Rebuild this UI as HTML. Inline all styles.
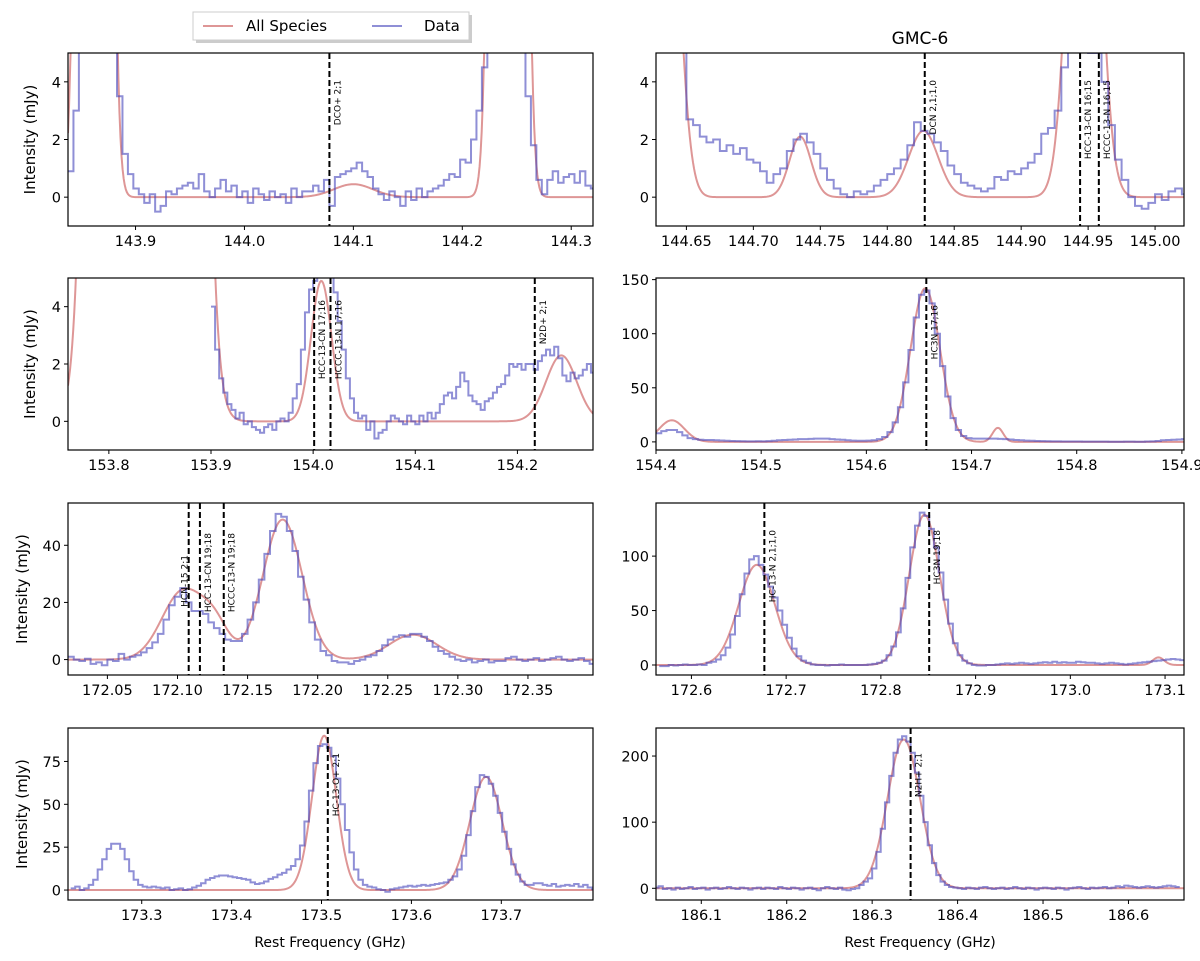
<!DOCTYPE html>
<html><head><meta charset="utf-8"><style>
body{margin:0;background:#fff}
svg{display:block;font-family:"DejaVu Sans","Liberation Sans",sans-serif}
</style></head><body>
<svg id="fig" width="1200" height="961" viewBox="0 0 1200 961" xmlns="http://www.w3.org/2000/svg">
<rect width="1200" height="961" fill="#fff"/>
<g>
<rect x="196" y="15" width="276" height="28" fill="#999" opacity="0.5"/>
<rect x="193" y="12" width="276" height="28" fill="#fff" stroke="#ccc" stroke-width="1"/>
<line x1="203" y1="26" x2="233" y2="26" stroke="#c85050" stroke-opacity="0.6" stroke-width="2"/>
<text x="246" y="31" font-size="15">All Species</text>
<line x1="372" y1="26" x2="402" y2="26" stroke="#4444bb" stroke-opacity="0.6" stroke-width="2"/>
<text x="424" y="31" font-size="15">Data</text>
</g>
<text x="920" y="44" font-size="17" text-anchor="middle">GMC-6</text>
<text x="330" y="947" font-size="14" text-anchor="middle">Rest Frequency (GHz)</text>
<text x="920" y="947" font-size="14" text-anchor="middle">Rest Frequency (GHz)</text>
</svg>
<script>
// ---- Panel 1 ----
const p1Start = 143.838, p1Step = 0.005;
const p1Data = [0.9,3,6,8,8,8,8,8,6,3.5,1.5,0.8,0.3,0.1,-0.2,0.1,-0.5,-0.3,0.2,0.1,0.3,0.4,0.5,0.3,0.8,0.2,0.0,0.3,0.6,0.2,0.4,0.0,0.2,-0.2,0.3,0.1,-0.1,0.2,0.0,0.1,-0.2,0.3,0.0,0.2,0.2,0.4,0.2,0.6,-0.3,0.7,0.8,0.9,1.0,1.2,0.9,0.7,0.3,0.1,-0.1,0.2,0.0,-0.3,0.2,-0.1,0.3,0.0,0.2,0.3,0.4,0.6,0.8,0.7,1.3,1.2,2,3,4.5,7,8,8,8,8,8,6,3.5,1.8,0.6,0.1,0.6,0.9,0.5,0.7,0.8,0.5,0.9,0.4,0.3];
const p1Centers = [143.862,144.1,144.242];
const p1Amps = [200,0.45,220];
const p1Widths = [0.008,0.018,0.008];
const p1XTicks = [143.9,144.0,144.1,144.2,144.3];
const p1XTickLabels = ["143.9","144.0","144.1","144.2","144.3"];
const p1YTicks = [0,2,4];
const p1Lines = [144.078];
const p1LineLabels = ["DCO+ 2;1"];
// ---- Panel 2 ----
const p2Start = 144.645, p2Step = 0.005;
const p2Data = [8,2.7,2.5,2.1,1.9,2.0,1.6,1.8,1.5,1.7,1.3,1.2,0.9,0.5,0.8,1.0,1.6,2.0,2.2,1.9,1.5,1.0,0.6,0.3,0.1,0.0,0.2,0.1,0.2,0.4,0.6,0.8,1.0,1.3,1.8,2.6,2.3,2.2,1.9,1.6,1.1,0.8,0.5,0.4,0.3,0.2,0.3,0.7,0.6,0.9,0.8,1.0,1.2,1.5,2.2,2.4,3.0,4.5,5.5,6,6,5,5,4,2.5,1.3,0.6,0.0,-0.3,-0.4,-0.2,0.1,-0.1,0.2,0.3,0.1];
const p2Centers = [144.635,144.735,144.827,144.947];
const p2Amps = [14,2.1,2.3,20];
const p2Widths = [0.009,0.008,0.011,0.01];
const p2XTicks = [144.65,144.70,144.75,144.80,144.85,144.90,144.95,145.00];
const p2XTickLabels = ["144.65","144.70","144.75","144.80","144.85","144.90","144.95","145.00"];
const p2YTicks = [0,2,4];
const p2Lines = [144.828,144.944,144.958];
const p2LineLabels = ["DCN 2,1;1,0","HCC-13-CN 16;15","HCCC-13-N 16;15"];
// ---- Panel 3 ----
const p3Start = 153.900, p3Step = 0.004;
const p3Data = [4,2.5,1.5,1.0,0.6,0.4,0.1,0.3,-0.1,0.0,-0.2,-0.3,-0.4,-0.2,-0.1,-0.3,0.0,0.1,0.0,0.3,0.8,1.3,2.5,3.8,4.6,4.9,6,8,8,6,4.5,3.5,2.5,1.5,0.8,0.3,0.1,0.2,-0.3,0.0,-0.6,-0.4,-0.3,0.0,0.2,0.1,0.0,-0.1,0.2,0.0,-0.1,0.2,0.0,0.3,0.1,0.3,0.6,0.9,1.0,0.8,1.2,1.7,1.4,0.9,0.7,0.6,0.4,0.7,0.8,1.0,1.2,1.3,1.6,2.0,1.9,2.0,1.8,2.0,2.0,1.8,2.1,2.3,2.5,2.3,2.6,2.2,1.6,1.4,1.7,1.5,1.6,1.8,2.0,1.7];
const p3Centers = [153.836,154.008,154.243];
const p3Amps = [1700,4.9,2.3];
const p3Widths = [0.02,0.01,0.015];
const p3XTicks = [153.8,153.9,154.0,154.1,154.2];
const p3XTickLabels = ["153.8","153.9","154.0","154.1","154.2"];
const p3YTicks = [0,2,4];
const p3Lines = [154.001,154.017,154.217];
const p3LineLabels = ["HCC-13-CN 17;16","HCCC-13-N 17;16","N2D+ 2;1"];
// ---- Panel 4 ----
const p4Start = 154.400, p4Step = 0.005;
const p4Data = [8,10,11,11,9,6,3.5,2.5,2,1.8,1.7,1.5,1.3,1.0,0.8,0.7,0.6,0.5,0.5,0.6,0.5,0.7,1.0,1.5,1.8,2,2.2,2.5,2.5,2.8,3,3,3,2.5,2.2,2,1.5,1.2,1.0,1.0,1.2,1.5,2.5,4.5,9,18,32,55,85,115,136,140,128,100,70,42,22,11,5.5,3.5,3,3,3,3,3,2.8,2.5,2.2,1.8,1.5,1.2,1,0.8,0.7,0.6,0.5,0.5,0.4,0.3,0.3,0.3,0.2,0.2,0.2,0.2,0.2,0.1,0.1,0.1,0.2,0.2,0.1,0.1,0.3,0.5,0.8,1.5,1.8,2,2.2,2.5];
const p4Centers = [154.415,154.656,154.725];
const p4Amps = [20,142,13];
const p4Widths = [0.012,0.014,0.005];
const p4XTicks = [154.4,154.5,154.6,154.7,154.8,154.9];
const p4XTickLabels = ["154.4","154.5","154.6","154.7","154.8","154.9"];
const p4YTicks = [0,50,100,150];
const p4Lines = [154.657];
const p4LineLabels = ["HC3N 17;16"];
// ---- Panel 5 ----
const p5Start = 172.022, p5Step = 0.004;
const p5Data = [1,0,-0.5,0.3,-1.5,-1,-2,0,-0.5,2,0,1,1.5,2.5,4,6,9,14,19,22,25,20,17,17,16,13,11,9,7,6.5,6.5,9,14,20,28,37,45,51,50,45,38,29,21,13,7,3,1.5,-0.5,-1,-1,-1.5,-0.5,0,1,1.5,3,5,7,8,8.5,8,9,9,8,6.5,4.5,3,2,1,0,-0.5,0,-1,-0.5,0,-1,-0.5,-0.5,0.5,1,0,-0.5,0,0.5,-0.5,0,0.5,1,0,-0.5,0,0.5,-0.5,-1.5];
const p5Centers = [172.104,172.127,172.175,172.268];
const p5Amps = [24,10,49,8.7];
const p5Widths = [0.015,0.01,0.014,0.017];
const p5XTicks = [172.05,172.10,172.15,172.20,172.25,172.30,172.35];
const p5XTickLabels = ["172.05","172.10","172.15","172.20","172.25","172.30","172.35"];
const p5YTicks = [0,20,40];
const p5Lines = [172.108,172.116,172.133];
const p5LineLabels = ["HCN-15 2;1","HCC-13-CN 19;18","HCCC-13-N 19;18"];
// ---- Panel 6 ----
const p6Start = 172.566, p6Step = 0.005;
const p6Data = [-1,-1,0,-0.5,0,0.5,0,0,0.5,0,2,3,5,9,16,28,45,65,84,97,100,92,83,72,62,50,37,25,15,8,4,2,0.5,0,0,-0.5,0,0,0.5,0,0,0,0,0,0.5,1,2,4,9,17,30,52,80,108,128,140,137,125,108,85,60,38,20,9,4,1.5,0,-0.5,-0.5,0,0,0.5,1,1.5,1,1.5,2,1.5,1,1.5,2,2.5,2,3,2,2.5,2,2,3,2.5,2,2,1.5,1,1.5,2,1.5,1,0.5,1,1.5,2,2.5,3,3.5,4,4.5,5,5.5,5,4.5,4];
const p6Centers = [172.669,172.846,173.093];
const p6Amps = [92,138,7];
const p6Widths = [0.019,0.016,0.006];
const p6XTicks = [172.6,172.7,172.8,172.9,173.0,173.1];
const p6XTickLabels = ["172.6","172.7","172.8","172.9","173.0","173.1"];
const p6YTicks = [0,50,100];
const p6Lines = [172.677,172.851];
const p6LineLabels = ["HC-13-N 2,1;1,0","HC3N 19;18"];
// ---- Panel 7 ----
const p7Start = 173.221, p7Step = 0.005;
const p7Data = [1,2,0,1,3,6,12,18,24,27,27,24,18,11,6,3,2,1.5,2,1.5,1,1.5,0,0.5,1,0,0.5,1.5,2.5,4,6,7,8,8.5,8.5,8,7.5,7,6.5,6,4.5,3.5,4,5,6.5,7.5,9,10,12,14,18,26,40,58,74,84,85,83,78,65,50,35,22,12,6,3,2,1.5,0.5,0,-1,0.5,1,1.5,2,2.5,2,2.5,3,2.5,3,3.5,4,4.5,6,8,12,20,32,46,60,67,66,62,55,45,34,24,15,9,5,3,3,4,4,3,2.5,3.5,2,2.5,3,2.5,3.5,2,3,1.5,0.5];
const p7Centers = [173.503,173.683];
const p7Amps = [90,66];
const p7Widths = [0.0135,0.018];
const p7XTicks = [173.3,173.4,173.5,173.6,173.7];
const p7XTickLabels = ["173.3","173.4","173.5","173.6","173.7"];
const p7YTicks = [0,25,50,75];
const p7Lines = [173.507];
const p7LineLabels = ["HC-13-O+ 2;1"];
// ---- Panel 8 ----
const p8Start = 186.045, p8Step = 0.005;
const p8Data = [1,3,-1,0,-2,1,-1,0,2,-1,0,1,-2,0,1,-1,0,2,0,-1,1,0,-2,0,1,-1,1,0,-1,2,0,-1,1,0,-2,0,1,-1,-3,0,2,0,-1,1,-2,-3,-1,0,5,10,15,30,55,90,130,170,205,225,230,222,205,175,140,100,65,38,20,10,5,2,1,0,-1,1,0,-1,1,2,0,-1,0,1,-1,0,2,0,-1,1,0,-2,0,1,0,-1,1,0,-2,0,1,2,0,-1,1,0,1,2,0,1,3,2,4,3,2,1,2,3,2,1,2,3,4,3,2];
const p8Centers = [186.337];
const p8Amps = [225];
const p8Widths = [0.019];
const p8XTicks = [186.1,186.2,186.3,186.4,186.5,186.6];
const p8XTickLabels = ["186.1","186.2","186.3","186.4","186.5","186.6"];
const p8YTicks = [0,100,200];
const p8Lines = [186.345];
const p8LineLabels = ["N2H+ 2;1"];

const NS = "http://www.w3.org/2000/svg";
const svg = document.getElementById('fig');
function mk(tag, attrs, parent){ const e=document.createElementNS(NS,tag); for(const k in attrs) e.setAttribute(k,attrs[k]); (parent||svg).appendChild(e); return e; }

const panels = [
 {id:1,box:[68,53,593,226],xl:[143.838,144.320],yl:[-1,5],start:p1Start,step:p1Step,data:p1Data,c:p1Centers,a:p1Amps,w:p1Widths,xt:p1XTicks,xtl:p1XTickLabels,yt:p1YTicks,lines:p1Lines,labels:p1LineLabels,ylab:true,ltop:27,ldx:[4]},
 {id:2,box:[656,53,1184,226],xl:[144.6273,145.0216],yl:[-1,5],start:p2Start,step:p2Step,data:p2Data,c:p2Centers,a:p2Amps,w:p2Widths,xt:p2XTicks,xtl:p2XTickLabels,yt:p2YTicks,lines:p2Lines,labels:p2LineLabels,ylab:false,ltop:27,ldx:[4,4,4]},
 {id:3,box:[68,278,593,450],xl:[153.760,154.274],yl:[-1,5],start:p3Start,step:p3Step,data:p3Data,c:p3Centers,a:p3Amps,w:p3Widths,xt:p3XTicks,xtl:p3XTickLabels,yt:p3YTicks,lines:p3Lines,labels:p3LineLabels,ylab:true,ltop:22,ldx:[4,4,4]},
 {id:4,box:[656,278,1184,450],xl:[154.4,154.902],yl:[-7.5,151.5],start:p4Start,step:p4Step,data:p4Data,c:p4Centers,a:p4Amps,w:p4Widths,xt:p4XTicks,xtl:p4XTickLabels,yt:p4YTicks,lines:p4Lines,labels:p4LineLabels,ylab:false,ltop:27,ldx:[4]},
 {id:5,box:[68,503,593,675],xl:[172.0219,172.3964],yl:[-5.4,54.8],start:p5Start,step:p5Step,data:p5Data,c:p5Centers,a:p5Amps,w:p5Widths,xt:p5XTicks,xtl:p5XTickLabels,yt:p5YTicks,lines:p5Lines,labels:p5LineLabels,ylab:true,ltop:30,ldx:[-8,4,4],ltops:[52,30,30]},
 {id:6,box:[656,503,1184,675],xl:[172.5626,173.120],yl:[-9.2,148.8],start:p6Start,step:p6Step,data:p6Data,c:p6Centers,a:p6Amps,w:p6Widths,xt:p6XTicks,xtl:p6XTickLabels,yt:p6YTicks,lines:p6Lines,labels:p6LineLabels,ylab:false,ltop:27,ldx:[4,4]},
 {id:7,box:[68,728,593,900],xl:[173.218,173.802],yl:[-5.8,94.5],start:p7Start,step:p7Step,data:p7Data,c:p7Centers,a:p7Amps,w:p7Widths,xt:p7XTicks,xtl:p7XTickLabels,yt:p7YTicks,lines:p7Lines,labels:p7LineLabels,ylab:true,ltop:25,ldx:[4]},
 {id:8,box:[656,728,1184,900],xl:[186.047,186.665],yl:[-17.7,242.4],start:p8Start,step:p8Step,data:p8Data,c:p8Centers,a:p8Amps,w:p8Widths,xt:p8XTicks,xtl:p8XTickLabels,yt:p8YTicks,lines:p8Lines,labels:p8LineLabels,ylab:false,ltop:25,ldx:[4]}
];

panels.forEach(p=>{
  const [x0,y0,x1,y1]=p.box;
  const sx=v=>x0+(v-p.xl[0])/(p.xl[1]-p.xl[0])*(x1-x0);
  const sy=v=>y1-(v-p.yl[0])/(p.yl[1]-p.yl[0])*(y1-y0);
  const g=mk('g',{});
  
  
  const cp=mk('clipPath',{id:'clip'+p.id},g);
  mk('rect',{x:x0,y:y0,width:x1-x0,height:y1-y0},cp);
  const plot=mk('g',{'clip-path':'url(#clip'+p.id+')'},g);
  let d='';
  const n=500;
  for(let i=0;i<=n;i++){
    const f=p.xl[0]+(p.xl[1]-p.xl[0])*i/n;
    let v=0;
    for(let k=0;k<p.c.length;k++){const z=(f-p.c[k])/p.w[k]; v+=p.a[k]*Math.exp(-0.5*z*z);}
    const yy=Math.max(y0-20,sy(v));
    d+=(i?'L':'M')+sx(f).toFixed(2)+','+yy.toFixed(2);
  }
  const model=mk('path',{d:d,fill:'none',stroke:'#c85050','stroke-opacity':0.6,'stroke-width':2},plot);
  
  
  let dd='';
  p.data.forEach((v,i)=>{
    const xa=sx(p.start+i*p.step), xb=sx(p.start+(i+1)*p.step);
    const yy=Math.max(y0-20,sy(v));
    dd+=(i?'L':'M')+xa.toFixed(2)+','+yy.toFixed(2)+'L'+xb.toFixed(2)+','+yy.toFixed(2);
  });
  const data=mk('path',{d:dd,fill:'none',stroke:'#4444bb','stroke-opacity':0.6,'stroke-width':2},plot);
  
  
  p.lines.forEach((f,i)=>{
    const lx=sx(f);
    const ln=mk('line',{x1:lx,y1:y0,x2:lx,y2:y1,stroke:'#000','stroke-width':2,'stroke-dasharray':'6,3'},plot);
    
    
    const ty=y0+(p.ltops?p.ltops[i]:p.ltop);
    const tx=lx+p.ldx[i]+7;
    const t=mk('text',{x:tx,y:ty,'font-size':9,'text-anchor':'end',transform:'rotate(-90 '+tx+' '+ty+')'},g);
    t.textContent=p.labels[i];
    
    
  });
  const fr=mk('rect',{x:x0,y:y0,width:x1-x0,height:y1-y0,fill:'none',stroke:'#000','stroke-width':1.2},g);
  
  
  p.xt.forEach((f,i)=>{
    const xx=sx(f);
    mk('line',{x1:xx,y1:y1,x2:xx,y2:y1+4,stroke:'#000','stroke-width':1},g);
    const t=mk('text',{x:xx,y:y1+20,'font-size':14.5,'text-anchor':'middle'},g);
    t.textContent=p.xtl[i];
    
    
  });
  p.yt.forEach(v=>{
    const yy=sy(v);
    mk('line',{x1:x0-4,y1:yy,x2:x0,y2:yy,stroke:'#000','stroke-width':1},g);
    const t=mk('text',{x:x0-7,y:yy+5.5,'font-size':14.5,'text-anchor':'end'},g);
    t.textContent=String(v);
    
    
  });
  if(p.ylab){
    const cy=(y0+y1)/2, cx=p.id===1||p.id===3?35:27;
    const t=mk('text',{x:cx,y:cy,'font-size':15,'text-anchor':'middle',transform:'rotate(-90 '+cx+' '+cy+')'},g);
    t.textContent='Intensity (mJy)';
    
    
  }
});
</script>
</body></html>
